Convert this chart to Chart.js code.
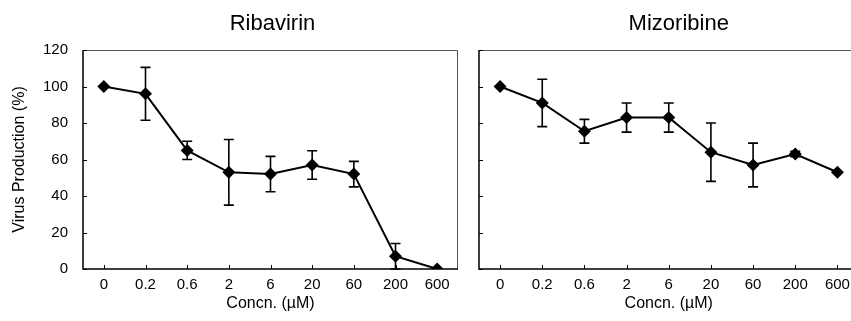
<!DOCTYPE html>
<html>
<head>
<meta charset="utf-8">
<script src="https://cdn.jsdelivr.net/npm/chart.js@4.4.0/dist/chart.umd.min.js"></script>
<style>
  html, body { margin: 0; padding: 0; background: #fff; }
  body { width: 851px; height: 321px; overflow: hidden; position: relative; }
  .box { position: absolute; top: 0; height: 321px; }
  #leftBox { left: 0; width: 465px; }
  #rightBox { left: 465px; width: 400px; }
</style>
</head>
<body>
<div class="box" id="leftBox"><canvas id="ribavirin"></canvas></div>
<div class="box" id="rightBox"><canvas id="mizoribine"></canvas></div>
<script>
const concentrations = ['0', '0.2', '0.6', '2', '6', '20', '60', '200', '600'];
const ribavirinMean = [100, 96, 65, 53, 52, 57, 52, 7, 0];
const ribavirinErr = [0, 14.5, 5, 18, 9.7, 7.8, 7, 7, 0];
const mizoribineMean = [100, 91, 75.5, 83, 83, 64, 57, 63, 53];
const mizoribineErr = [0, 13, 6.5, 8, 8, 16, 12, 1.5, 0];
const yTicks = [0, 20, 40, 60, 80, 100, 120];

const FONT = '"Liberation Sans", Arial, sans-serif';
Chart.defaults.font.family = FONT;
Chart.defaults.color = '#000';

// panel title, error bars, frame and inside tick marks
const decorPlugin = {
    id: 'decor',
    beforeDatasetsDraw(chart) {
        const ctx = chart.ctx;
        const area = chart.chartArea;
        const xs = chart.scales.x;
        const ys = chart.scales.y;
        const opts = chart.options.plugins.decor;
        ctx.save();
        // title
        ctx.fillStyle = '#000';
        ctx.font = '22px ' + FONT;
        ctx.textAlign = 'center';
        ctx.textBaseline = 'alphabetic';
        ctx.fillText(opts.title, (area.left + area.right) / 2 + opts.titleShift, 30);
        // frame top/right
        ctx.strokeStyle = '#555';
        ctx.lineWidth = 1;
        ctx.beginPath();
        ctx.moveTo(area.left, area.top + 0.5);
        ctx.lineTo(area.right - 0.5, area.top + 0.5);
        ctx.lineTo(area.right - 0.5, area.bottom);
        ctx.stroke();
        // axes
        ctx.strokeStyle = '#000';
        ctx.lineWidth = 1.5;
        ctx.beginPath();
        ctx.moveTo(area.left, area.top);
        ctx.lineTo(area.left, area.bottom);
        ctx.lineTo(area.right, area.bottom);
        ctx.stroke();
        // inside ticks
        ctx.lineWidth = 1;
        ctx.beginPath();
        yTicks.forEach(v => {
            const py = Math.round(ys.getPixelForValue(v)) + 0.5;
            ctx.moveTo(area.left, py);
            ctx.lineTo(area.left + 4, py);
        });
        concentrations.forEach((c, i) => {
            const px = Math.round(xs.getPixelForValue(i)) + 0.5;
            ctx.moveTo(px, area.bottom);
            ctx.lineTo(px, area.bottom - 4);
        });
        ctx.stroke();
        // error bars
        const means = chart.data.datasets[0].data;
        ctx.lineWidth = 1.6;
        ctx.beginPath();
        means.forEach((m, i) => {
            const e = opts.errors[i];
            if (!e) return;
            const px = xs.getPixelForValue(i);
            const top = ys.getPixelForValue(m + e);
            const bot = ys.getPixelForValue(Math.max(0, m - e));
            ctx.moveTo(px, top);
            ctx.lineTo(px, bot);
            ctx.moveTo(px - 5, top);
            ctx.lineTo(px + 5, top);
            ctx.moveTo(px - 5, bot);
            ctx.lineTo(px + 5, bot);
        });
        ctx.stroke();
        ctx.restore();
    }
};

function makeChart(id, title, means, errs, showYLabels, yWidth, titleShift) {
    const ctx = document.getElementById(id).getContext('2d');
    return new Chart(ctx, {
        type: 'line',
        data: {
            labels: concentrations,
            datasets: [{
                data: means,
                borderColor: '#000',
                backgroundColor: '#000',
                borderWidth: 2,
                pointStyle: 'rectRot',
                pointRadius: 6.5,
                pointBorderWidth: 0,
                tension: 0
            }]
        },
        options: {
            responsive: true,
            maintainAspectRatio: false,
            animation: false,
            layout: { padding: { left: 0, right: showYLabels ? 7 : 4, top: 50, bottom: 0 } },
            plugins: {
                legend: { display: false },
                tooltip: { enabled: false },
                title: { display: false },
                decor: { errors: errs, title: title, titleShift: titleShift }
            },
            scales: {
                x: {
                    offset: true,
                    grid: { display: false, drawTicks: false },
                    border: { display: false },
                    ticks: { padding: 7, font: { size: 15 }, color: '#000', maxRotation: 0, autoSkip: false },
                    title: { display: true, text: 'Concn. (µM)', color: '#000', font: { size: 16 }, padding: { top: 2, bottom: 8 } },
                    afterFit: s => { s.height = 52; }
                },
                y: {
                    min: 0,
                    max: 120,
                    grid: { display: false, drawTicks: false },
                    border: { display: false },
                    ticks: { display: showYLabels, stepSize: 20, padding: 15, font: { size: 15 }, color: '#000' },
                    title: { display: showYLabels, text: 'Virus Production (%)', color: '#000', font: { size: 16 }, padding: { top: 10, bottom: 2 } },
                    afterFit: s => { s.width = yWidth; }
                }
            }
        },
        plugins: [decorPlugin]
    });
}

makeChart('ribavirin', 'Ribavirin', ribavirinMean, ribavirinErr, true, 83, 2);
makeChart('mizoribine', 'Mizoribine', mizoribineMean, mizoribineErr, false, 14, 10);
</script>
</body>
</html>
